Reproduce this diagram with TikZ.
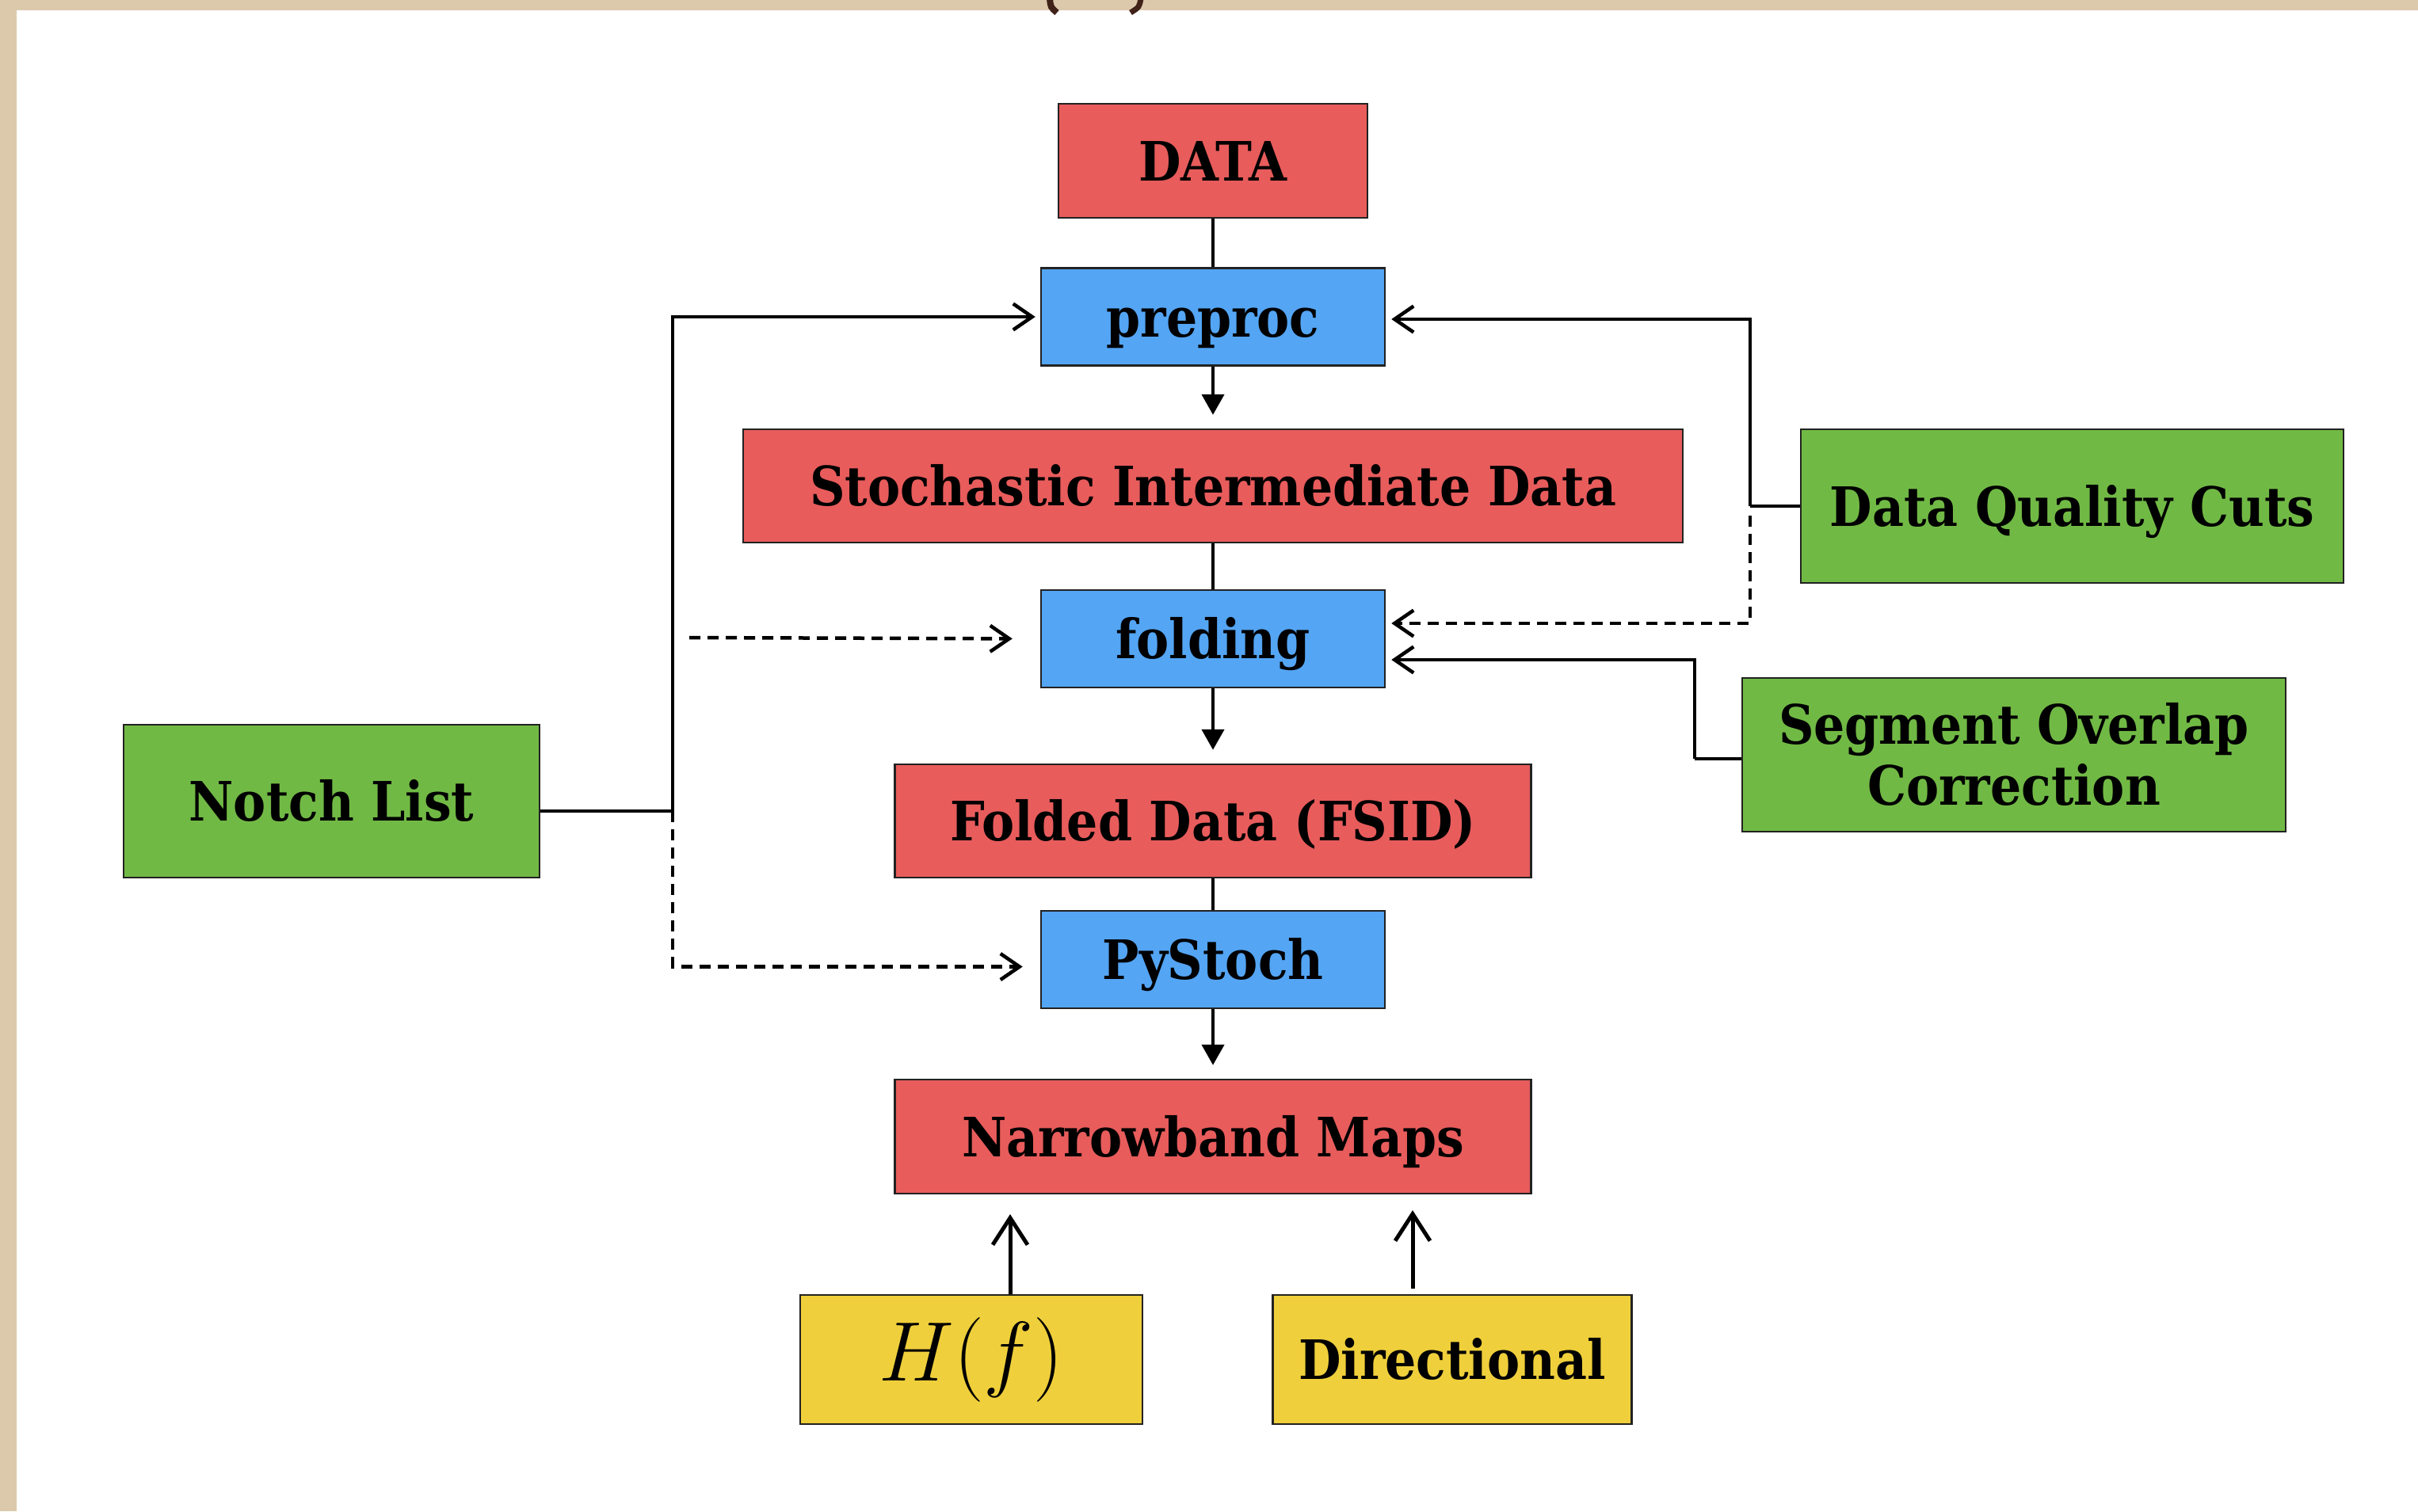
\documentclass[tikz,border=0pt]{standalone}
\usepackage{amsmath}
\usepackage{fontspec}
\setmainfont{DejaVuSerifCondensed}[Extension=.ttf, UprightFont=*, BoldFont=*-Bold, ItalicFont=*-Italic, BoldItalicFont=*-BoldItalic]
\usepackage{tikz}
\usetikzlibrary{positioning}
\usetikzlibrary{arrows.meta}
\definecolor{boxred}{RGB}{232,92,92}
\definecolor{boxblue}{RGB}{84,165,244}
\definecolor{boxgreen}{RGB}{113,185,69}
\definecolor{boxyellow}{RGB}{239,207,59}
\definecolor{boxline}{RGB}{34,34,34}
\definecolor{paper}{RGB}{220,201,172}
\definecolor{ornament}{RGB}{64,34,24}
\newcommand{\flowfont}{\fontsize{19.5}{22}\selectfont\bfseries}

\begin{document}
\begin{tikzpicture}

\tikzstyle{box}=[draw=boxline, line width=0.025cm, inner sep=0pt, align=center, font=\flowfont, text height=0.50cm, text depth=0pt]
\tikzstyle{redbox}=[box, fill=boxred]
\tikzstyle{bluebox}=[box, fill=boxblue, minimum width=4.34cm, minimum height=1.23cm]
\tikzstyle{greenbox}=[box, fill=boxgreen]
\tikzstyle{yellowbox}=[box, fill=boxyellow, minimum height=1.63cm]
\tikzstyle{plainline}=[line width=0.045cm]
\tikzstyle{flowarrow}=[line width=0.045cm, -{Triangle[length=0.26cm,width=0.28cm]}, shorten >=0.17cm]
\tikzstyle{sidearrow}=[line width=0.045cm, -{Straight Barb[length=0.24cm,width=0.33cm]}]
\tikzstyle{dotarrow}=[sidearrow, dash pattern=on 0.14cm off 0.09cm]
\tikzstyle{handarrow}=[line width=0.05cm, -{Straight Barb[length=0.34cm,width=0.44cm]}]

\useasboundingbox (0,0) rectangle (30.52,-19.08);
\fill[paper] (0,0) rectangle (30.52,-19.08);
\fill[white] (0.21,-0.13) rectangle (30.52,-19.08);
\draw[ornament, line width=0.08cm] (13.25,0.02) .. controls (13.26,-0.09) .. (13.34,-0.16);
\draw[ornament, line width=0.07cm] (14.40,0.02) .. controls (14.38,-0.09) .. (14.27,-0.16);

\node[redbox, minimum width=3.90cm, minimum height=1.44cm] at (15.31, -2.03) (data) {DATA};
\node[bluebox] at (15.31, -4.00) (preproc) {preproc};
\node[redbox, minimum width=11.86cm, minimum height=1.43cm] at (15.31, -6.135) (stoch) {Stochastic Intermediate Data};
\node[bluebox] at (15.31, -8.065) (folding) {folding};
\node[redbox, minimum width=8.03cm, minimum height=1.43cm] at (15.31, -10.365) (fsid) {Folded Data (FSID)};
\node[bluebox] at (15.31, -12.115) (pystoch) {PyStoch};
\node[redbox, minimum width=8.03cm, minimum height=1.44cm] at (15.31, -14.35) (maps) {Narrowband Maps};

\node[yellowbox, minimum width=4.32cm, font=\fontsize{24.88}{28}\selectfont, text height=22.8pt, text depth=7.6pt] at (12.26, -17.165) (hf) {\scalebox{1.22}{$H(f)$}};
\node[yellowbox, minimum width=4.53cm] at (18.33, -17.165) (dir) {Directional};

\node[greenbox, minimum width=5.25cm, minimum height=1.93cm] at (4.185, -10.115) (notch) {Notch List};
\node[greenbox, minimum width=6.85cm, minimum height=1.94cm] at (26.155, -6.39) (dqc) {Data Quality Cuts};
\node[greenbox, minimum width=6.86cm, minimum height=1.94cm, text height=1.27cm] at (25.42, -9.53) (soc) {Segment Overlap\\Correction};

\draw[plainline] (data) to (preproc);
\draw[flowarrow] (preproc) to (stoch);
\draw[plainline] (stoch) to (folding);
\draw[flowarrow] (folding) to (fsid);
\draw[plainline] (fsid) to (pystoch);
\draw[flowarrow] (pystoch) to (maps);

\coordinate (nj) at (8.49, -10.24);
\coordinate (nf) at (8.70, -8.05);
\draw[plainline] (notch.east |- nj) to (nj);
\draw[sidearrow, shorten >=0.06cm] (nj) |- (preproc.west);
\draw[dotarrow, shorten >=0.35cm] (nf) to (folding.west);
\draw[dotarrow, shorten >=0.22cm] (nj) |- ([yshift=-0.09cm]pystoch.west);

\coordinate (dj) at (22.09, -6.39);
\draw[plainline] (dqc.west) to (dj);
\draw[sidearrow, shorten >=0.07cm] (dj) |- ([yshift=-0.03cm]preproc.east);
\draw[dotarrow, shorten >=0.07cm] ([yshift=-0.12cm]dj) |- ([yshift=0.195cm]folding.east);

\coordinate (sj) at (21.39, -9.58);
\draw[plainline] (soc.west |- sj) to (sj);
\draw[sidearrow, shorten >=0.07cm] (sj) |- ([yshift=-0.265cm]folding.east);

\coordinate (ha) at (12.75, -15.33);
\coordinate (da) at (17.83, -15.28);
\draw[handarrow] (ha |- hf.north) to (ha);
\draw[handarrow] ([yshift=0.07cm]da |- dir.north) to (da);

\end{tikzpicture}
\end{document}
